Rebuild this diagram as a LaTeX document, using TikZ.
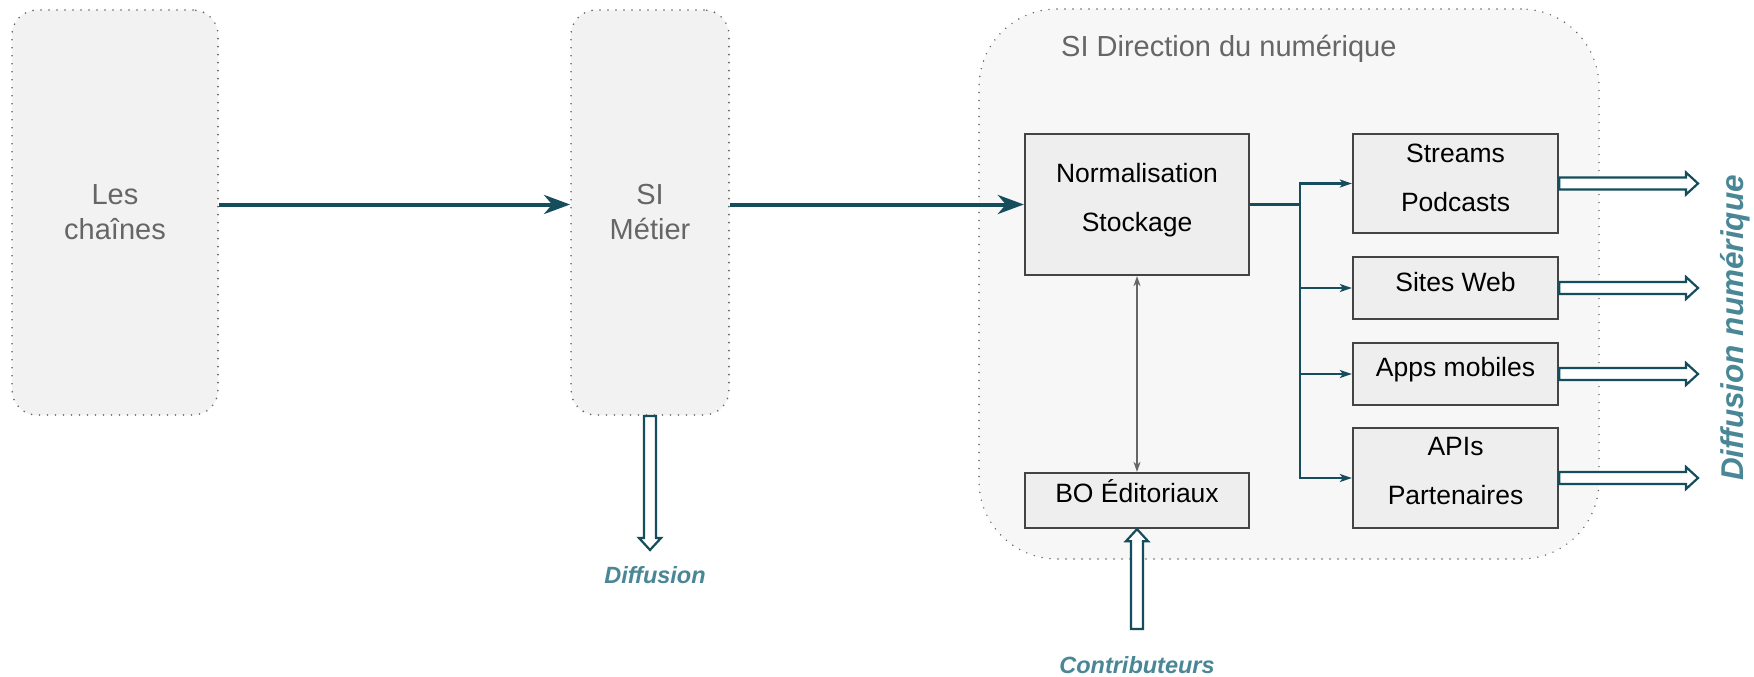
\documentclass[tikz,border=0pt]{standalone}
\usepackage{fontspec}
\setmainfont{Liberation Sans}
\usetikzlibrary{arrows.meta,calc}
\definecolor{tealdark}{HTML}{164D5C}
\definecolor{teallight}{HTML}{4A8796}
\definecolor{outerfill}{HTML}{F2F2F2}
\definecolor{innerfill}{HTML}{EEEEEE}
\definecolor{dotgray}{HTML}{666666}
\definecolor{txtgray}{HTML}{666666}
\definecolor{boxborder}{HTML}{444444}
\definecolor{biline}{HTML}{666666}
\begin{document}
\begin{tikzpicture}[x=1pt,y=-1pt,
  outerbox/.style={draw=dotgray, line width=1.8pt, line cap=round, dash pattern=on 0pt off 8pt,
    fill=outerfill, rounded corners=25pt, inner sep=0pt, align=center, text=txtgray,
    font=\fontsize{29pt}{35pt}\selectfont},
  bigbox/.style={draw=dotgray, line width=1.6pt, line cap=round, dash pattern=on 0pt off 8pt,
    fill=outerfill!60!white, rounded corners=78pt, inner sep=0pt},
  innerbox/.style={draw=boxborder, line width=2.3pt, fill=innerfill, inner sep=0pt},
  lbl/.style={align=center, inner sep=0pt, font=\fontsize{26.5pt}{49pt}\selectfont, text=black},
  mainarrow/.style={draw=tealdark, line width=4pt, -{Stealth[length=26pt,width=19pt,inset=8pt]}},
  branch/.style={draw=tealdark, line width=2.6pt, -{Stealth[length=12pt,width=8pt,inset=3pt]}},
  branchline/.style={draw=tealdark, line width=2.6pt},
  biarrow/.style={draw=biline, line width=1.3pt, {Stealth[length=10pt,width=7pt,inset=3pt]}-{Stealth[length=10pt,width=7pt,inset=3pt]}},
  hollow/.style={draw=tealdark, fill=white, line width=2.2pt, line join=miter},
  tag/.style={text=teallight, inner sep=0pt, font=\fontsize{23.5pt}{28pt}\selectfont\bfseries\itshape}
]
\fill[white] (0,0) rectangle (1754,677);
\useasboundingbox (0,0) rectangle (1754,677);

% outer containers
\node[outerbox, minimum width=206pt, minimum height=405pt] (chaines) at (115,212.5) {Les\\chaînes};
\node[outerbox, minimum width=158pt, minimum height=405pt] (metier) at (650,212.5) {SI\\Métier};
\node[bigbox, minimum width=620pt, minimum height=550pt] (dn) at (1289,284) {};
\node[anchor=base west, inner sep=0pt, text=txtgray, font=\fontsize{29pt}{35pt}\selectfont] (dntitle) at (1061,57) {SI Direction du numérique};

% inner boxes
\node[innerbox, minimum width=224pt, minimum height=141pt,
  label={[lbl, yshift=4.2pt]center:{Normalisation\\Stockage}}] (norm) at (1137,204.5) {};
\node[innerbox, minimum width=224pt, minimum height=55pt,
  label={[lbl, yshift=9pt]center:{BO Éditoriaux}}] (bo) at (1137,500.5) {};
\node[innerbox, minimum width=205pt, minimum height=99pt,
  label={[lbl, yshift=6pt]center:{Streams\\Podcasts}}] (streams) at (1455.5,183.5) {};
\node[innerbox, minimum width=205pt, minimum height=62pt,
  label={[lbl, yshift=5.5pt]center:{Sites Web}}] (sites) at (1455.5,288) {};
\node[innerbox, minimum width=205pt, minimum height=62pt,
  label={[lbl, yshift=4.2pt]center:{Apps mobiles}}] (apps) at (1455.5,374) {};
\node[innerbox, minimum width=205pt, minimum height=100pt,
  label={[lbl, yshift=7pt]center:{APIs\\Partenaires}}] (apis) at (1455.5,478) {};

% main flow
\draw[mainarrow] (chaines.east |- norm.west) -- (metier.west |- norm.west);
\draw[mainarrow] (metier.east |- norm.west) -- (norm.west);

% branches
\coordinate (bus) at (1300,204.5);
\draw[branchline] (norm.east) -- (bus);
\draw[branch] (bus) |- (streams.west);
\draw[branch] (bus) |- (sites.west);
\draw[branch] (bus) |- (apps.west);
\draw[branch] (bus) |- (apis.west);

% bidirectional
\draw[biarrow] (norm.south) -- (bo.north);

% hollow arrows to the right
\coordinate (tipA) at (1698,183.5);
\coordinate (tipB) at (1698,288);
\coordinate (tipC) at (1698,374);
\coordinate (tipD) at (1698,478);
\foreach \b/\t in {streams/tipA, sites/tipB, apps/tipC, apis/tipD}{
  \draw[hollow] let \p1=(\b.east), \p2=(\t) in
    (\x1,\y1+6pt) -- (\x2-12pt,\y1+6pt) -- (\x2-12pt,\y1+11pt) -- (\x2,\y1)
    -- (\x2-12pt,\y1-11pt) -- (\x2-12pt,\y1-6pt) -- (\x1,\y1-6pt) -- cycle;
}

% hollow arrow down from SI Metier
\coordinate (difftip) at (650,550);
\draw[hollow] let \p1=(metier.south), \p2=(difftip) in
  (\x1-6pt,\y1) -- (\x1-6pt,\y2+12pt) -- (\x1-11pt,\y2+12pt) -- (\x1,\y2)
  -- (\x1+11pt,\y2+12pt) -- (\x1+6pt,\y2+12pt) -- (\x1+6pt,\y1) -- cycle;

% hollow arrow up into BO
\coordinate (contribbase) at (1137,629);
\draw[hollow] let \p1=(contribbase), \p2=(bo.south) in
  (\x2-6pt,\y1) -- (\x2-6pt,\y2-12pt) -- (\x2-11pt,\y2-12pt) -- (\x2,\y2)
  -- (\x2+11pt,\y2-12pt) -- (\x2+6pt,\y2-12pt) -- (\x2+6pt,\y1) -- cycle;

% labels
\node[tag, anchor=base] (diffusion) at (655,583) {Diffusion};
\node[tag, anchor=base] (contrib) at (1137,673) {Contributeurs};
\node[tag, rotate=90, anchor=base, font=\fontsize{31.5pt}{37pt}\selectfont\bfseries\itshape] (diffnum) at (1743,328) {Diffusion numérique};
\end{tikzpicture}
\end{document}
